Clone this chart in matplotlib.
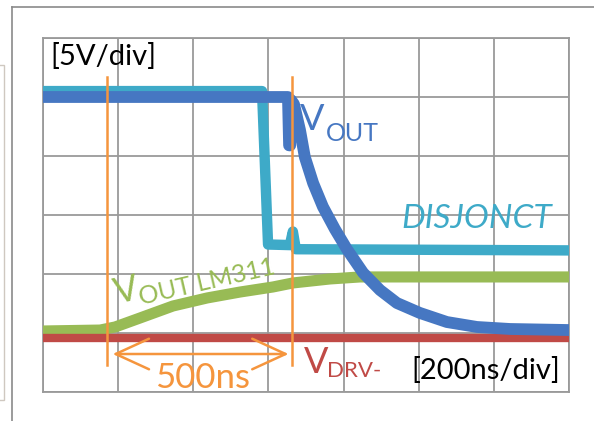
import matplotlib
matplotlib.use("Agg")
from matplotlib import pyplot as plt
from matplotlib.lines import Line2D
from matplotlib.patches import Rectangle

plt.rcParams['font.family'] = ['Lato', 'DejaVu Sans']

# time in ns (200 ns/div), amplitude in V (5 V/div)
t_vout = [0, 652, 655, 658, 660, 668, 684, 697, 719, 745, 777, 809, 852, 897, 942,
          1003, 1075, 1155, 1243, 1400]
v_vout = [25.0, 25.0, 20.9, 20.9, 24.75, 24.4, 22.2, 19.9, 17.7, 15.7, 13.8, 12.1, 10.1, 8.64, 7.54,
          6.70, 5.93, 5.51, 5.34, 5.25]

t_disj = [0, 583, 599, 657, 665, 673, 1400]
v_disj = [25.5, 25.5, 12.5, 12.45, 13.6, 12.1, 12.0]

t_lm311 = [0, 152, 192, 258, 346, 437, 524, 612, 665, 764, 844, 1400]
v_lm311 = [5.17, 5.25, 5.51, 6.27, 7.29, 7.97, 8.47, 8.90, 9.24, 9.58, 9.75, 9.75]

t_drv = [0, 1400]
v_drv = [4.58, 4.58]

t_marks = [170, 663]   # orange cursors, 500 ns apart

c_blue = '#4677c2'
c_cyan = '#3eaac8'
c_green = '#98bb55'
c_red = '#c04a46'
c_orange = '#f5953d'

fig = plt.figure(figsize=(5.94, 4.21), dpi=100)

# frame of the screenshot
fig.add_artist(Line2D([12/594, 12/594], [0, 1 - 7/421], color='#8a8a8a', lw=1.2, transform=fig.transFigure))
fig.add_artist(Line2D([12/594, 1], [1 - 7/421, 1 - 7/421], color='#8a8a8a', lw=1.2, transform=fig.transFigure))
fig.add_artist(Rectangle((-2/594, 1 - 400/421), 6/594, 335/421, fill=False, ec='#cfc8c0', lw=1.0,
                         transform=fig.transFigure))

ax = fig.add_axes([43/594, 1 - 392/421, 526/594, 354/421])
ax.set_xlim(0, 1400)
ax.set_ylim(0, 30)
ax.set_xticks(range(0, 1401, 200))
ax.set_yticks(range(0, 31, 5))
ax.tick_params(length=0, labelbottom=False, labelleft=False)
ax.grid(True, color='#9a9a9a', lw=1.3)
ax.set_axisbelow(True)
for s in ax.spines.values():
    s.set_color('#9a9a9a')
    s.set_linewidth(1.3)

ax.plot(t_disj, v_disj, color=c_cyan, lw=7.5, solid_joinstyle='round', zorder=3)
ax.plot(t_lm311, v_lm311, color=c_green, lw=8, solid_joinstyle='round', zorder=4)
ax.plot(t_drv, v_drv, color=c_red, lw=6, zorder=5)
ax.plot(t_vout, v_vout, color=c_blue, lw=8.5, solid_joinstyle='round', zorder=6)

for tm in t_marks:
    ax.plot([tm, tm], [2.3, 26.7], color=c_orange, lw=1.8, zorder=7)
ax.annotate('', xy=(t_marks[0] + 8, 3.22), xytext=(t_marks[1] - 2, 3.22),
            arrowprops=dict(arrowstyle='<->, head_length=1.2, head_width=0.55',
                            color=c_orange, lw=1.8, mutation_scale=20), zorder=7)

ax.text(20, 28.4, '[5V/div]', fontsize=21, color='black', va='center')
ax.text(683, 22.2, 'V', fontsize=26, color=c_blue)
ax.text(753, 21.3, 'OUT', fontsize=18, color=c_blue)
ax.text(955, 13.9, 'DISJONCT', fontsize=24, style='italic', color=c_cyan)
ax.text(197, 7.46, 'V', fontsize=26, color=c_green, rotation=13, rotation_mode='anchor')
ax.text(261, 7.37, 'OUT LM311', fontsize=18, color=c_green, rotation=13, rotation_mode='anchor')
ax.text(298, 0.35, '500ns', fontsize=25, color=c_orange)
ax.text(695, 1.65, 'V', fontsize=26, color=c_red)
ax.text(757, 1.25, 'DRV-', fontsize=16, color=c_red)
ax.text(1376, 1.86, '[200ns/div]', fontsize=21, color='black', ha='right', va='center')

fig.savefig('out.png', dpi=100)
